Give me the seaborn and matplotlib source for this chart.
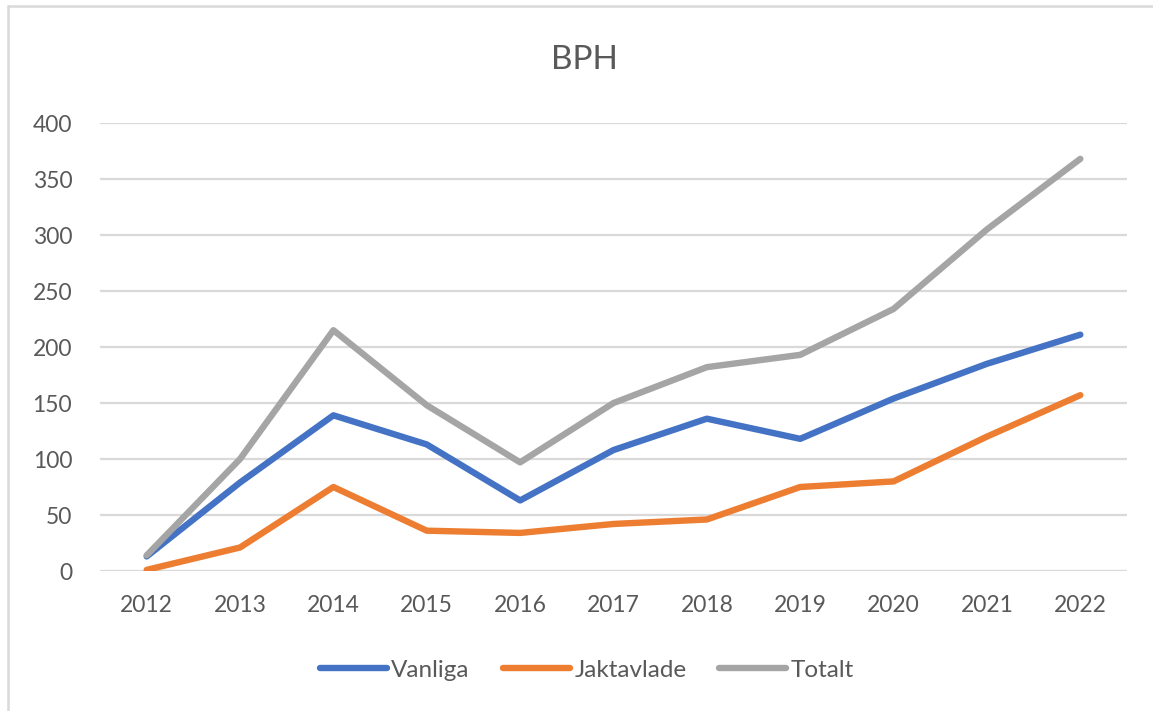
import matplotlib
matplotlib.use("Agg")
import matplotlib.pyplot as plt
import seaborn as sns
import pandas as pd
from matplotlib.lines import Line2D

years = [2012, 2013, 2014, 2015, 2016, 2017, 2018, 2019, 2020, 2021, 2022]
vanliga = [13, 79, 139, 113, 63, 108, 136, 118, 154, 185, 211]
jaktavlade = [1, 21, 75, 36, 34, 42, 46, 75, 80, 120, 157]
totalt = [14, 100, 215, 148, 97, 150, 182, 193, 234, 305, 368]
series_names = ["Vanliga", "Jaktavlade", "Totalt"]
colors = ["#4472C4", "#ED7D31", "#A5A5A5"]
yticks = [0, 50, 100, 150, 200, 250, 300, 350, 400]

sns.set_theme(style="white")
plt.rcParams["font.family"] = ["Lato", "DejaVu Sans"]

df = pd.DataFrame({
    "year": years * 3,
    "value": vanliga + jaktavlade + totalt,
    "series": [s for s in series_names for _ in years],
})

fig = plt.figure(figsize=(11.53, 7.11), dpi=100)
ax = fig.add_axes([100 / 1153, 1 - 571 / 711, 1027 / 1153, (571 - 123) / 711])

sns.lineplot(data=df, x="year", y="value", hue="series", hue_order=series_names,
             palette=dict(zip(series_names, colors)), linewidth=4.6, ax=ax,
             legend=False, zorder=3)
for l in ax.get_lines():
    l.set_solid_capstyle("round")
    l.set_solid_joinstyle("round")

ax.set_xlim(years[0] - 0.5, years[-1] + 0.5)
ax.set_ylim(0, 400)
ax.set_xticks(years)
ax.set_xticklabels([str(y) for y in years])
ax.set_yticks(yticks)
ax.set_xlabel("")
ax.set_ylabel("")
for s in ax.spines.values():
    s.set_visible(False)
ax.grid(axis="y", color="#D9D9D9", linewidth=1.6, zorder=0)
ax.grid(axis="x", visible=False)
ax.tick_params(axis="both", length=0, labelsize=16.5, colors="#595959")
ax.tick_params(axis="y", pad=20)
ax.tick_params(axis="x", pad=17)

fig.text(0.507, 1 - 60 / 711, "BPH", ha="center", va="center", fontsize=24, color="#595959")

handles = [Line2D([], [], color=c, linewidth=4.6, solid_capstyle="round") for c in colors]
fig.legend(handles, series_names, loc="center", bbox_to_anchor=(587 / 1153, 1 - 670 / 711),
           ncol=3, frameon=False, fontsize=17.5, labelcolor="#595959",
           handlelength=2.75, handletextpad=0.2, columnspacing=1.35)

# outer chart border (top and left visible)
fig.add_artist(Line2D([8 / 1153, 1], [1 - 6 / 711, 1 - 6 / 711], transform=fig.transFigure,
                      color="#D9D9D9", linewidth=1.8))
fig.add_artist(Line2D([8 / 1153, 8 / 1153], [0, 1 - 6 / 711], transform=fig.transFigure,
                      color="#D9D9D9", linewidth=1.8))

fig.savefig("out.png", dpi=100)
